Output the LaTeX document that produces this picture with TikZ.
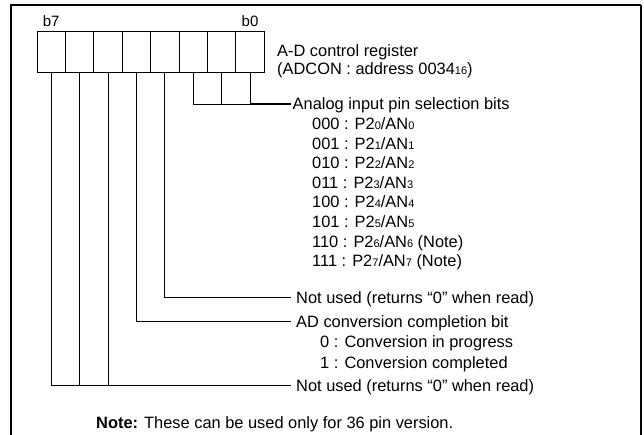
\documentclass[tikz,border=0pt]{standalone}
\usepackage{fontspec}
\setmainfont{Liberation Sans}
\newcommand{\sm}[1]{{\fontsize{11}{11}\selectfont #1}}
\begin{document}
\begin{tikzpicture}[x=1pt,y=-1pt,
  cell/.style={draw, line width=0.9pt, minimum width=28.4pt, minimum height=41.5pt, inner sep=0pt, outer sep=0pt},
  wire/.style={line width=0.9pt},
  lbl/.style={anchor=base west, inner sep=0pt, font=\fontsize{16.4}{19}\selectfont},
  bitlbl/.style={anchor=base, inner sep=0pt, font=\fontsize{15}{18}\selectfont},
  frameline/.style={line width=1.8pt}]
\useasboundingbox (0,0) rectangle (644,435);
\draw[frameline] (11,435) -- (11,5) -- (641,5);
\draw[line width=1.4pt] (641,5) -- (641,435);
% register cells
\foreach \i in {0,...,7} {
  \node[cell] (c\i) at ({51.2+28.4*(7-\i)},51.75) {};
}
\node[bitlbl] (b7) at ([yshift=4pt]c7.north) {b7};
\node[bitlbl] (b0) at ([yshift=4pt]c0.north) {b0};
\node[lbl] (title1) at (277,57) {A-D control register};
\node[lbl] (title2) at (277,74.5) {(ADCON : address 0034\sm{16})};
% wire ends
\coordinate (e0) at (291,104);
\coordinate (e3) at (291,297.5);
\coordinate (e4) at (291,321);
\coordinate (e5) at (291,385);
\draw[wire] (c2.south) |- (e0);
\draw[wire] (c1.south) -- (c1.south |- e0);
\draw[wire] (c0.south) -- (c0.south |- e0);
\draw[line width=1.4pt] (c0.south |- e0) -- (e0);
\draw[wire] (c3.south) |- (e3);
\draw[wire] (c4.south) |- (e4);
\draw[wire] (c7.south) |- (e5);
\draw[wire] (c6.south) -- (c6.south |- e5);
\draw[wire] (c5.south) -- (c5.south |- e5);
% texts
\node[lbl] (analog) at (292.5,110) {Analog input pin selection bits};
\node[lbl] (s0) at (312,129.6) {000 : P2\sm{0}/AN\sm{0}};
\node[lbl] (s1) at (312,149.2) {001 : P2\sm{1}/AN\sm{1}};
\node[lbl] (s2) at (312,168.8) {010 : P2\sm{2}/AN\sm{2}};
\node[lbl] (s3) at (312,188.4) {011 : P2\sm{3}/AN\sm{3}};
\node[lbl] (s4) at (312,208.0) {100 : P2\sm{4}/AN\sm{4}};
\node[lbl] (s5) at (312,227.6) {101 : P2\sm{5}/AN\sm{5}};
\node[lbl] (s6) at (312,247.2) {110 : P2\sm{6}/AN\sm{6} (Note)};
\node[lbl] (s7) at (312,266.8) {111 : P2\sm{7}/AN\sm{7} (Note)};
\node[lbl] (nu3) at (296,303.5) {Not used (returns “0” when read)};
\node[lbl] (adc) at (296,327) {AD conversion completion bit};
\node[lbl] (adc0) at (320,347.5) {0 : Conversion in progress};
\node[lbl] (adc1) at (320,368) {1 : Conversion completed};
\node[lbl] (nu7) at (296,391) {Not used (returns “0” when read)};
\node[lbl] (note) at (96,428.5) {\textbf{Note:} These can be used only for 36 pin version.};
\end{tikzpicture}
\end{document}
